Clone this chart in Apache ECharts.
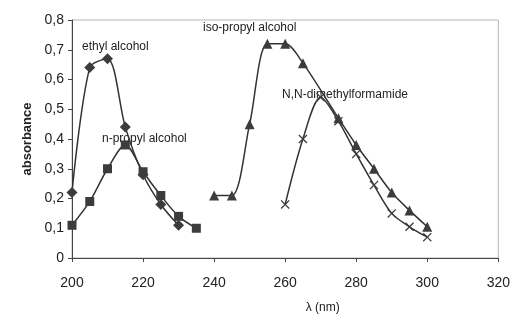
<!DOCTYPE html>
<html>
<head>
<meta charset="utf-8">
<script src="https://cdn.jsdelivr.net/npm/echarts@6/dist/echarts.min.js"></script>
<style>
  html, body { margin: 0; padding: 0; background: #fff; }
  #chart { width: 513px; height: 320px; }
</style>
</head>
<body>
<div id="chart"></div>
<script>
// wavelengths (nm) and absorbance
var ethylX = [200, 205, 210, 215, 220, 225, 230];
var ethylY = [0.22, 0.64, 0.67, 0.44, 0.28, 0.18, 0.11];

var propylX = [200, 205, 210, 215, 220, 225, 230, 235];
var propylY = [0.11, 0.19, 0.30, 0.38, 0.29, 0.21, 0.14, 0.10];

var isoX = [240, 245, 250, 255, 260, 265, 275, 280, 285, 290, 295, 300];
var isoY = [0.21, 0.21, 0.45, 0.72, 0.72, 0.655, 0.47, 0.38, 0.30, 0.22, 0.16, 0.105];

var dmfX = [260, 265, 270, 275, 280, 285, 290, 295, 300];
var dmfY = [0.18, 0.40, 0.54, 0.46, 0.35, 0.245, 0.15, 0.105, 0.07];

var xTicks = [200, 220, 240, 260, 280, 300, 320];

function pairs(xs, ys) {
    var out = [];
    for (var i = 0; i < xs.length; i++) out.push([xs[i], ys[i]]);
    return out;
}

var lineCol = '#333';
var cross = 'path://M0,1L1,0L5,4L9,0L10,1L6,5L10,9L9,10L5,6L1,10L0,9L4,5Z';

function mkSeries(name, xs, ys, symbol, size) {
    return {
        name: name,
        type: 'line',
        smooth: 0.3,
        symbol: symbol,
        symbolSize: size,
        showAllSymbol: true,
        lineStyle: { color: lineCol, width: 1.5 },
        itemStyle: { color: '#3c3c3c' },
        data: pairs(xs, ys)
    };
}

var chart = echarts.init(document.getElementById('chart'));
chart.setOption({
    animation: false,
    backgroundColor: '#fff',
    textStyle: { fontFamily: 'Liberation Sans, Arial, sans-serif' },
    grid: {
        left: 72, right: 10, top: 20, bottom: 62,
        show: true, borderColor: '#b5b5b5', borderWidth: 1
    },
    xAxis: {
        type: 'value',
        min: 200, max: 320, interval: 20,
        name: 'λ (nm)',
        nameLocation: 'middle',
        nameGap: 44,
        nameTextStyle: { color: '#222', fontSize: 12, padding: [0, 0, 0, 75] },
        axisLine: { lineStyle: { color: '#444', width: 1 } },
        axisTick: { show: true, length: 4, lineStyle: { color: '#444' } },
        axisLabel: {
            color: '#222', fontSize: 14, margin: 18,
            formatter: function (v) { return xTicks.indexOf(v) >= 0 ? v : ''; }
        },
        splitLine: { show: false }
    },
    yAxis: {
        type: 'value',
        min: 0, max: 0.8, interval: 0.1,
        name: 'absorbance',
        nameLocation: 'middle',
        nameGap: 38,
        nameTextStyle: { color: '#222', fontSize: 13, fontWeight: 'bold' },
        axisLine: { show: true, lineStyle: { color: '#444', width: 1 } },
        axisTick: { show: true, length: 4, lineStyle: { color: '#444' } },
        axisLabel: {
            color: '#222', fontSize: 14, margin: 8,
            formatter: function (v) { return v === 0 ? '0' : v.toFixed(1).replace('.', ','); }
        },
        splitLine: { show: false }
    },
    graphic: [
        { type: 'text', left: 82, top: 41, style: { text: 'ethyl alcohol', fontSize: 12, fill: '#222', fontFamily: 'Liberation Sans' } },
        { type: 'text', left: 102, top: 133, style: { text: 'n-propyl alcohol', fontSize: 12, fill: '#222', fontFamily: 'Liberation Sans' } },
        { type: 'text', left: 203, top: 22, style: { text: 'iso-propyl alcohol', fontSize: 12, fill: '#222', fontFamily: 'Liberation Sans' } },
        { type: 'text', left: 282, top: 89, style: { text: 'N,N-dimethylformamide', fontSize: 12, fill: '#222', fontFamily: 'Liberation Sans' } }
    ],
    series: [
        mkSeries('ethyl alcohol', ethylX, ethylY, 'diamond', 11),
        mkSeries('n-propyl alcohol', propylX, propylY, 'rect', 9),
        mkSeries('iso-propyl alcohol', isoX, isoY, 'triangle', 10),
        mkSeries('N,N-dimethylformamide', dmfX, dmfY, cross, 9)
    ]
});
</script>
</body>
</html>
